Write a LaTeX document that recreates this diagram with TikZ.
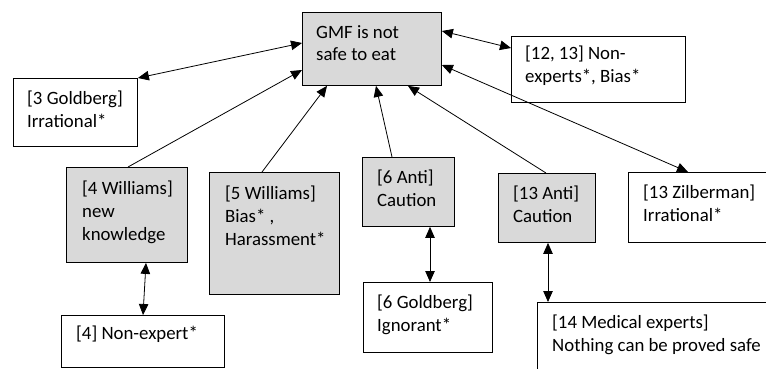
\documentclass[tikz,border=0pt]{standalone}
\usepackage{fontspec}
\setmainfont{Carlito}
\usetikzlibrary{arrows.meta}
\definecolor{boxgray}{HTML}{D9D9D9}
\tikzset{
  box/.style={draw=black, line width=0.9pt, rectangle, inner sep=0pt, anchor=north west},
  graybox/.style={box, fill=boxgray},
  whitebox/.style={box, fill=white},
  txt/.style={anchor=north west, inner sep=0pt, align=left, font=\fontsize{18.8}{22.7}\selectfont},
  conn/.style={line width=0.8pt, -{Triangle[length=11pt,width=9.5pt]}},
  dconn/.style={line width=0.8pt, {Triangle[length=11pt,width=9.5pt]}-{Triangle[length=11pt,width=9.5pt]}}
}
\begin{document}
\begin{tikzpicture}[x=1pt,y=-1pt]
\useasboundingbox (0,0) rectangle (766,369);
\clip (0,0) rectangle (766,369);
\fill[white] (0,0) rectangle (766,369);
% boxes
\node[graybox, minimum width=139pt, minimum height=73pt] (gmf) at (302,12) {};
\node[whitebox, minimum width=174pt, minimum height=66pt] (n1213) at (511,36) {};
\node[whitebox, minimum width=124pt, minimum height=68pt] (g3) at (13,78) {};
\node[graybox, minimum width=121pt, minimum height=95pt] (w4) at (66,167) {};
\node[graybox, minimum width=130pt, minimum height=122pt] (w5) at (209,172) {};
\node[graybox, minimum width=92pt, minimum height=69pt] (a6) at (362,157) {};
\node[graybox, minimum width=97pt, minimum height=69pt] (a13) at (498,173) {};
\node[whitebox, minimum width=137.5pt, minimum height=70pt] (z13) at (628,172) {};
\node[whitebox, minimum width=163pt, minimum height=52pt] (ne4) at (61,315) {};
\node[whitebox, minimum width=129pt, minimum height=70pt] (g6) at (363,282) {};
\node[whitebox, minimum width=250pt, minimum height=80pt] (m14) at (537,302) {};
% texts
\node[txt] (tgmf) at ([xshift=14pt,yshift=-13pt]gmf.north west) {GMF is not\\safe to eat};
\node[txt] (tn1213) at ([xshift=14pt,yshift=-10pt]n1213.north west) {[12, 13] Non-\\experts*, Bias*};
\node[txt] (tg3) at ([xshift=14pt,yshift=-13pt]g3.north west) {[3 Goldberg]\\Irrational*};
\node[txt] (tw4) at ([xshift=16pt,yshift=-14pt]w4.north west) {[4 Williams]\\new\\knowledge};
\node[txt] (tw5) at ([xshift=16pt,yshift=-14pt]w5.north west) {[5 Williams]\\Bias* ,\\Harassment*};
\node[txt] (ta6) at ([xshift=15pt,yshift=-13pt]a6.north west) {[6 Anti]\\Caution};
\node[txt] (ta13) at ([xshift=15pt,yshift=-13pt]a13.north west) {[13 Anti]\\Caution};
\node[txt] (tz13) at ([xshift=15pt,yshift=-13pt]z13.north west) {[13 Zilberman]\\Irrational*};
\node[txt] (tne4) at ([xshift=15pt,yshift=-11pt]ne4.north west) {[4] Non-expert*};
\node[txt] (tg6) at ([xshift=14pt,yshift=-13pt]g6.north west) {[6 Goldberg]\\Ignorant*};
\node[txt] (tm14) at ([xshift=15pt,yshift=-13pt]m14.north west) {[14 Medical experts]\\Nothing can be proved safe};
% connectors
\draw[dconn] ([yshift=-31pt]gmf.north west) -- (g3.north east);
\draw[conn] ([xshift=62pt]w4.north west) -- ([yshift=-58pt]gmf.north west);
\draw[conn] ([xshift=53pt]w5.north west) -- ([xshift=25pt]gmf.south west);
\draw[conn] ([xshift=30pt]a6.north west) -- ([xshift=74pt]gmf.south west);
\draw[conn] ([xshift=48pt]a13.north west) -- ([xshift=106pt]gmf.south west);
\draw[dconn] ([yshift=-19pt]gmf.north east) -- ([yshift=-12pt]n1213.north west);
\draw[dconn] ([yshift=-53pt]gmf.north east) -- ([xshift=60pt]z13.north west);
\draw[dconn] ([xshift=80pt]w4.south west) -- ([xshift=82pt]ne4.north west);
\draw[dconn] ([xshift=68pt]a6.south west) -- ([xshift=67pt]g6.north west);
\draw[dconn] ([xshift=50pt]a13.south west) -- ([xshift=11pt]m14.north west);
\end{tikzpicture}
\end{document}
